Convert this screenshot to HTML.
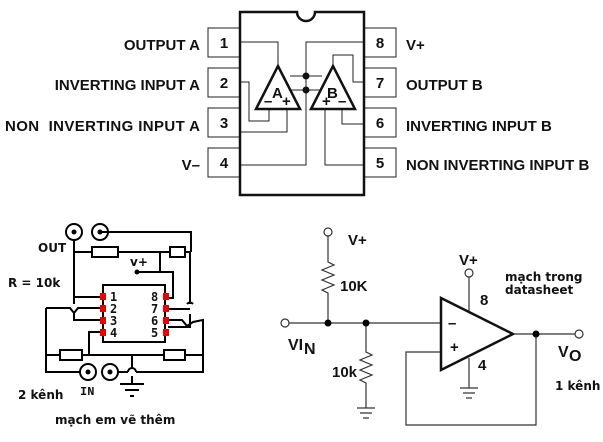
<!DOCTYPE html>
<html><head><meta charset="utf-8"><style>
html,body{margin:0;padding:0;background:#fff}
svg{display:block}
.b{font-family:"Liberation Sans",sans-serif;font-weight:bold;font-size:15px;fill:#111}
.m{font-family:"DejaVu Sans Mono","Liberation Mono",monospace;font-weight:bold;font-size:12px;fill:#111}
</style></head><body>
<svg width="603" height="442" viewBox="0 0 603 442" xmlns="http://www.w3.org/2000/svg">
<!-- TOP CHIP -->
<g fill="none" stroke="#222" stroke-width="1">
<rect x="208" y="28" width="32" height="29"/><rect x="208" y="68" width="32" height="29"/>
<rect x="208" y="108" width="32" height="29"/><rect x="208" y="148" width="32" height="29"/>
<rect x="364" y="28" width="32" height="29"/><rect x="364" y="68" width="32" height="29"/>
<rect x="364" y="108" width="32" height="29"/><rect x="364" y="148" width="32" height="29"/>
<path d="M240,42H278V66 M364,42H306V165H240 M240,82H249V121H269V109 M240,132H287V109 M333,66V55H353V82H364 M364,124H342V109 M364,165H325V109 M290,76H322 M290,90H322"/>
</g>
<path d="M240,12H297A9,9 0 0 0 315,12H364V195H240Z" fill="none" stroke="#111" stroke-width="2.5"/>
<path d="M278,66L256,109H300Z M333,66L311,109H355Z" fill="#fff" stroke="#111" stroke-width="2.5"/>
<circle cx="306" cy="76" r="3.5" fill="#111"/><circle cx="306" cy="90" r="3.5" fill="#111"/>
<text class="b" x="272" y="98" font-size="15">A</text><text class="b" x="264" y="106">–</text><text class="b" x="282" y="106">+</text>
<text class="b" x="327" y="98" font-size="15">B</text><text class="b" x="322" y="106">+</text><text class="b" x="338" y="106">–</text>
<g class="b" text-anchor="middle" font-size="15">
<text x="224" y="48">1</text><text x="224" y="88">2</text><text x="224" y="128">3</text><text x="224" y="168">4</text>
<text x="380" y="48">8</text><text x="380" y="88">7</text><text x="380" y="128">6</text><text x="380" y="168">5</text>
</g>
<g class="b" text-anchor="end">
<text x="200" y="50">OUTPUT A</text><text x="200" y="90">INVERTING INPUT A</text>
<text x="200" y="131" textLength="195">NON&#160; INVERTING INPUT A</text><text x="200" y="170">V–</text>
</g>
<g class="b"><text x="406" y="50">V+</text><text x="406" y="90">OUTPUT B</text>
<text x="406" y="131">INVERTING INPUT B</text><text x="406" y="170">NON INVERTING INPUT B</text></g>

<!-- BOTTOM LEFT -->
<g fill="none" stroke="#000" stroke-width="2">
<circle cx="74" cy="232" r="8"/><circle cx="100" cy="232" r="8"/>
<circle cx="88" cy="372" r="8"/><circle cx="110" cy="372" r="8"/>
<path d="M100,232H191V252 M190,252V304 M190,314V327H168 M74,240V304 M74,313V320H101 M74,297H101 M74,252H92 M118,252H170 M185,252H190 M160,252V272 M137,272H173V298H168 M168,309H190 M168,320H182L187,326L193,322V322L203,320V355 M46,308V372H80 M46,355H60 M82,355H164 M185,355H203 M89,355V332H101 M46,308H70L74,313L78,308H101 M118,372H128 M136,372H203V355 M132,355V368 M128,372A4,4 0 0 1 136,372 M132,376V384"/>
<path d="M187,304A4,4 0 0 1 193,304" />
<rect x="92" y="247" width="26" height="10" fill="#fff"/><rect x="170" y="247" width="15" height="10" fill="#fff"/>
<rect x="60" y="350" width="22" height="10" fill="#fff"/><rect x="164" y="350" width="21" height="10" fill="#fff"/>
<rect x="103" y="285" width="62" height="57"/>
<path d="M120,384H144 M125,390H139 M130,396H134"/>
</g>
<circle cx="74" cy="232" r="2.5"/><circle cx="100" cy="232" r="2.5"/><circle cx="88" cy="372" r="2.5"/><circle cx="110" cy="372" r="2.5"/>
<circle cx="137" cy="272" r="2.5"/>
<g fill="#e00">
<rect x="100" y="293" width="6" height="7"/><rect x="100" y="305" width="6" height="7"/><rect x="100" y="317" width="6" height="7"/><rect x="100" y="329" width="6" height="7"/>
<rect x="163" y="293" width="6" height="7"/><rect x="163" y="305" width="6" height="7"/><rect x="163" y="317" width="6" height="7"/><rect x="163" y="329" width="6" height="7"/>
</g>
<g class="m"><text x="110" y="301">1</text><text x="110" y="313">2</text><text x="110" y="325">3</text><text x="110" y="337">4</text>
<text x="151" y="301">8</text><text x="151" y="313">7</text><text x="151" y="325">6</text><text x="151" y="337">5</text></g>
<g font-family="DejaVu Sans,sans-serif" font-weight="bold" font-size="12" fill="#111">
<text x="38" y="252">OUT</text><text x="8" y="287">R = 10k</text><text x="130" y="266">v+</text>
<text x="80" y="395" font-family="Liberation Mono,monospace">IN</text><text x="18" y="399">2 kênh</text><text x="55" y="424">mạch em vẽ thêm</text>
<text x="505" y="281">mạch trong</text><text x="505" y="294">datasheet</text><text x="555" y="390">1 kênh</text>
</g>

<!-- BOTTOM RIGHT -->
<g fill="none" stroke="#333" stroke-width="1.2">
<path d="M328,236V262L334,265L322,270L334,275L322,280L334,285L322,290L328,293V323 M289,323H441 M366,323V352L372,355L360,360L372,365L360,370L372,375L360,380L366,383V408 M357,408H375 M360,413H372 M363,418H369 M515,334H575 M536,334V425H406V352H441 M469,277V311 M469,358V388 M460,388H478 M463,393H475 M466,398H472"/>
<circle cx="328" cy="232" r="4" fill="#fff"/><circle cx="285" cy="323" r="4" fill="#fff"/><circle cx="579" cy="334" r="4" fill="#fff"/><circle cx="469" cy="273" r="4" fill="#fff"/>
</g>
<path d="M441,298L513,334L441,370Z" fill="#fff" stroke="#111" stroke-width="2.5"/>
<circle cx="328" cy="323" r="3.5"/><circle cx="366" cy="323" r="3.5"/><circle cx="536" cy="334" r="3.5"/>
<g class="b" font-size="14"><text x="348" y="245">V+</text><text x="340" y="291">10K</text><text x="332" y="377">10k</text>
<text x="459" y="265">V+</text><text x="480" y="305">8</text><text x="478" y="370">4</text>
<text x="448" y="328">–</text><text x="450" y="352">+</text>
<text x="288" y="350" font-size="16">VI</text><text x="304" y="354" font-size="16">N</text>
<text x="558" y="357" font-size="16">V</text><text x="569" y="361" font-size="16">O</text></g>
</svg>
</body></html>
